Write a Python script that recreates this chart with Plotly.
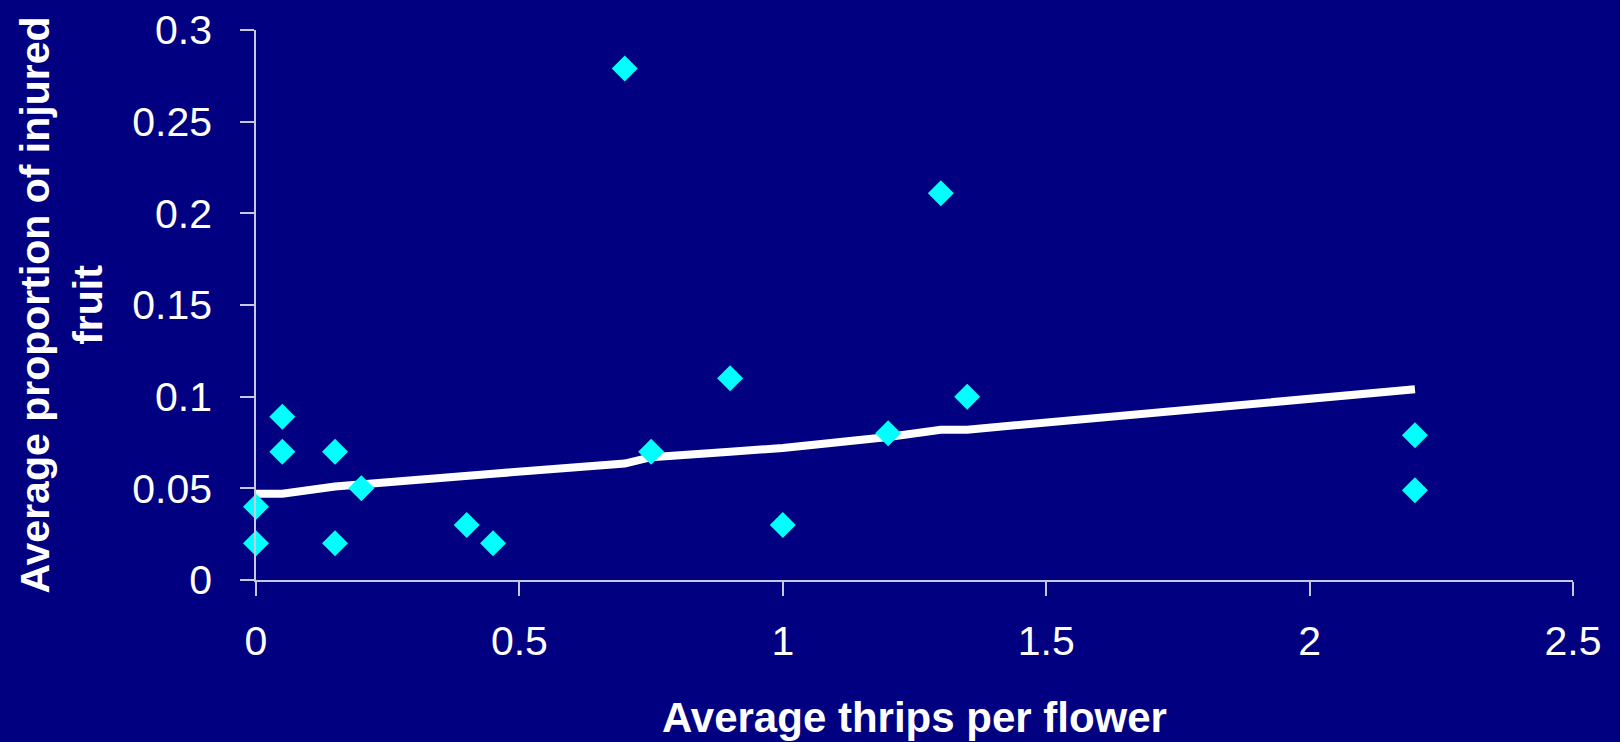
import plotly.graph_objects as go

# Observed data points
thrips = [0, 0, 0.05, 0.05, 0.15, 0.15, 0.2, 0.4, 0.45, 0.7, 0.75, 0.9, 1.0, 1.2, 1.3, 1.35, 2.2, 2.2]
injured = [0.04, 0.02, 0.089, 0.07, 0.07, 0.02, 0.05, 0.03, 0.02, 0.279, 0.07, 0.11, 0.03, 0.08, 0.211, 0.10, 0.079, 0.049]

# Fitted trend line
fit_x = [0, 0.05, 0.15, 0.2, 0.4, 0.45, 0.7, 0.75, 0.9, 1.0, 1.2, 1.3, 1.35, 2.2]
fit_y = [0.047, 0.047, 0.051, 0.052, 0.057, 0.058, 0.0635, 0.067, 0.070, 0.072, 0.078, 0.082, 0.082, 0.104]

x_ticks = [0, 0.5, 1, 1.5, 2, 2.5]
x_tick_labels = ["0", "0.5", "1", "1.5", "2", "2.5"]
y_ticks = [0, 0.05, 0.1, 0.15, 0.2, 0.25, 0.3]
y_tick_labels = ["0", "0.05", "0.1", "0.15", "0.2", "0.25", "0.3"]

BG = "#000080"
AXIS = "#c8c8dc"
FONT = "Liberation Sans, Arial, sans-serif"

fig = go.Figure()
fig.add_trace(go.Scatter(
    x=fit_x, y=fit_y, mode="lines",
    line=dict(color="white", width=8),
    hoverinfo="skip", showlegend=False, cliponaxis=False,
))
fig.add_trace(go.Scatter(
    x=thrips, y=injured, mode="markers",
    marker=dict(symbol="diamond", size=20, color="#00FFFF", line=dict(width=0)),
    showlegend=False, cliponaxis=False,
))

fig.update_layout(
    width=1620, height=742,
    paper_bgcolor=BG, plot_bgcolor=BG,
    margin=dict(l=256, r=47, t=30, b=162),
    font=dict(family=FONT, color="white", size=41),
    xaxis=dict(
        range=[0, 2.5], tickvals=x_ticks, ticktext=x_tick_labels,
        showgrid=False, zeroline=False,
        showline=True, linecolor=AXIS, linewidth=1.5,
        ticks="outside", ticklen=14, tickcolor=AXIS, tickwidth=1.5,
        ticklabelstandoff=10,
        tickfont=dict(size=41, color="white", family=FONT),
        title=dict(text="<b>Average thrips per flower</b>", font=dict(size=42, color="white", family=FONT), standoff=40),
        automargin=False,
    ),
    yaxis=dict(
        range=[0, 0.3], tickvals=y_ticks, ticktext=y_tick_labels,
        showgrid=False, zeroline=False,
        showline=True, linecolor=AXIS, linewidth=1.5,
        ticks="outside", ticklen=14, tickcolor=AXIS, tickwidth=1.5,
        ticklabelstandoff=20,
        tickfont=dict(size=41, color="white", family=FONT),
        title=dict(text="<b>Average proportion of injured<br>fruit</b>", font=dict(size=41, color="white", family=FONT), standoff=17),
        automargin=False,
    ),
)

fig.write_html("out.html")
